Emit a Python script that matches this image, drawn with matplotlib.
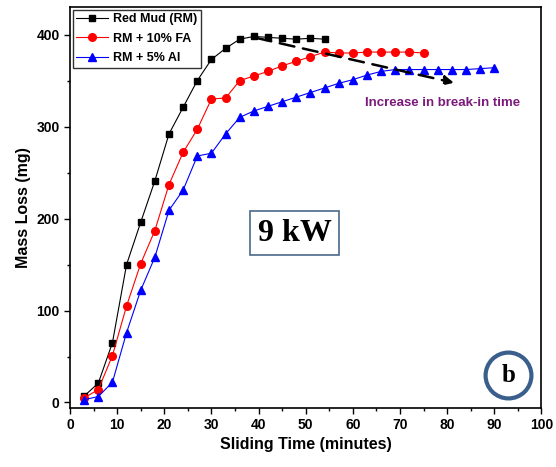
import matplotlib
matplotlib.use("Agg")
import matplotlib.pyplot as plt
from matplotlib.ticker import MultipleLocator

# Data
t_rm = [3, 6, 9, 12, 15, 18, 21, 24, 27, 30, 33, 36, 39, 42, 45, 48, 51, 54]
rm = [7, 21, 65, 150, 196, 241, 292, 321, 350, 373, 385, 395, 398, 397, 396, 395, 396, 395]

t_fa = [3, 6, 9, 12, 15, 18, 21, 24, 27, 30, 33, 36, 39, 42, 45, 48, 51, 54,
        57, 60, 63, 66, 69, 72, 75]
fa = [5, 14, 51, 105, 151, 187, 237, 272, 297, 330, 331, 350, 355, 360, 366, 371, 376, 381,
      380, 380, 381, 381, 381, 381, 380]

t_al = [3, 6, 9, 12, 15, 18, 21, 24, 27, 30, 33, 36, 39, 42, 45, 48, 51, 54,
        57, 60, 63, 66, 69, 72, 75, 78, 81, 84, 87, 90]
al = [3, 6.5, 22, 76, 122, 158, 209, 231, 268, 271, 292, 310, 317, 322, 327, 332, 337, 342,
      347, 351, 356, 360, 362, 362, 362, 362, 362, 362, 363, 364]

labels = ["Red Mud (RM)", "RM + 10% FA", "RM + 5% Al"]

plt.rcParams['font.family'] = ['Liberation Sans', 'DejaVu Sans']
plt.rcParams['font.weight'] = 'bold'

fig = plt.figure(figsize=(5.56, 4.67), dpi=100)
ax = fig.add_axes([0.1259, 0.1263, 0.8479, 0.8587])

ax.plot(t_rm, rm, '-s', color='black', lw=0.8, ms=5, label=labels[0])
ax.plot(t_fa, fa, '-o', color='#ff0000', mfc='#ff0000', mec='#ff0000', lw=0.8, ms=5.5,
        label=labels[1])
ax.plot(t_al, al, '-^', color='#0000ff', mfc='#0000ff', mec='#0000ff', lw=0.8, ms=6,
        label=labels[2])

ax.set_xlim(0, 100)
ax.set_ylim(-6, 430)
ax.xaxis.set_major_locator(MultipleLocator(10))
ax.xaxis.set_minor_locator(MultipleLocator(5))
ax.yaxis.set_major_locator(MultipleLocator(100))
ax.yaxis.set_minor_locator(MultipleLocator(50))
ax.tick_params(which='both', direction='out', top=False, right=False, width=1)
ax.tick_params(which='major', length=4, labelsize=10)
ax.tick_params(which='minor', length=2.5)
for s in ax.spines.values():
    s.set_linewidth(1.2)

ax.set_xlabel("Sliding Time (minutes)", fontsize=11.5, fontweight='bold', labelpad=3)
ax.set_ylabel("Mass Loss (mg)", fontsize=11.5, fontweight='bold', labelpad=4)

leg = ax.legend(loc='upper left', fontsize=9, frameon=True, fancybox=False,
                edgecolor='black', borderaxespad=0.2, handlelength=2.5,
                handletextpad=0.4, labelspacing=0.6, borderpad=0.3)
leg.get_frame().set_linewidth(1.0)
for txt in leg.get_texts():
    txt.set_fontweight('bold')

# dashed arrow
ax.annotate("", xy=(82, 347), xytext=(39, 397),
            arrowprops=dict(arrowstyle='-|>', color='black', lw=1.8,
                            linestyle=(0, (6, 3.5)), mutation_scale=14))
ax.text(79, 326, "Increase in break-in time", color='#7b1a7b', fontsize=9.5,
        fontweight='bold', ha='center', va='center')

# 9 kW box
ax.text(47.7, 184, "9 kW", fontsize=23, fontweight='bold',
        family=['Liberation Serif', 'DejaVu Serif'], ha='center', va='center',
        bbox=dict(boxstyle='square,pad=0.24', fc='white', ec='#4a6a8a', lw=1.2))

# circle b
ax.plot([93], [30], marker='o', ms=33, mfc='none', mec='#3b5f8c', mew=3)
ax.text(93, 29, "b", fontsize=18, fontweight='bold',
        family=['Liberation Serif', 'DejaVu Serif'], ha='center', va='center')

fig.savefig("out.png", dpi=100)
